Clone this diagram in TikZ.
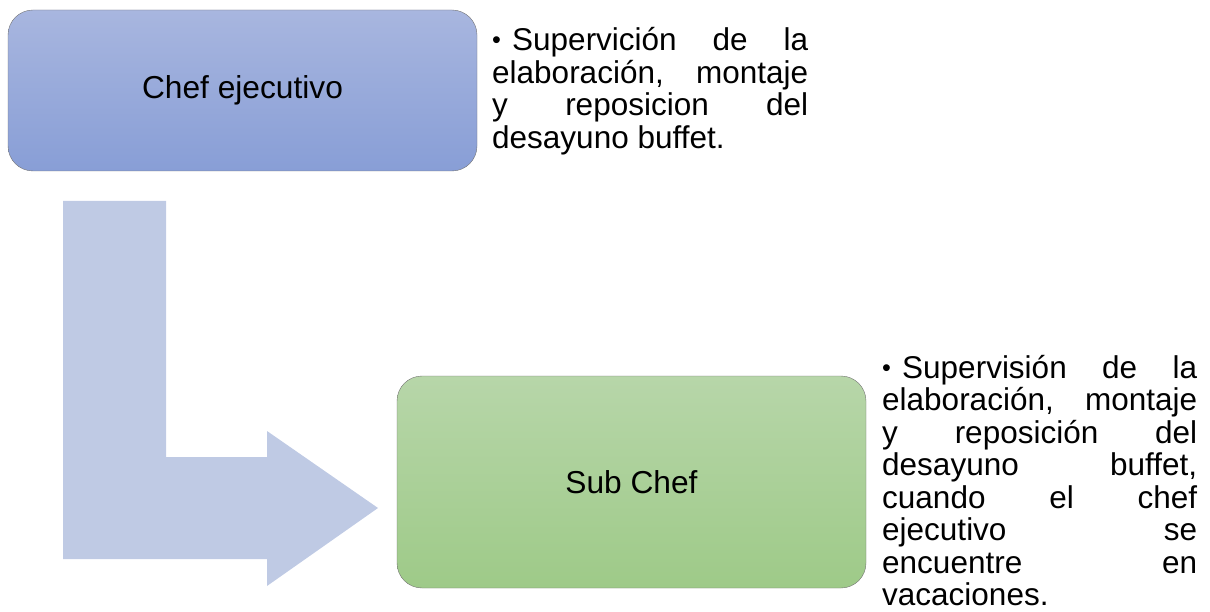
\documentclass[tikz,border=0pt]{standalone}
\usepackage{fontspec}
\setmainfont{Liberation Sans}
\usepackage{tikz}
\usetikzlibrary{shapes,arrows,positioning}

\definecolor{jefeTop}{RGB}{168,182,223}
\definecolor{jefeBot}{RGB}{136,158,214}
\definecolor{subTop}{RGB}{183,214,169}
\definecolor{subBot}{RGB}{158,202,136}
\definecolor{flecha}{RGB}{191,202,228}

\tikzstyle{puesto} = [draw=black!55, rectangle, rounded corners=25pt,
    minimum width=469pt, inner sep=0pt, font=\fontsize{31.7}{34}\selectfont]
\tikzstyle{tareas} = [anchor=base west, inner sep=0pt, align=justify,
    font=\fontsize{31.5}{32.5}\selectfont]

\newcommand{\tarea}{\noindent\hangindent=20pt\hangafter=1\makebox[20pt][l]{\raisebox{2pt}{\scalebox{0.8}{\textbullet}}}}

\begin{document}
\begin{tikzpicture}[x=1pt,y=-1pt]
\useasboundingbox (0,0) rectangle (1210,612);

% flecha en L
\fill[flecha] (63,201) -- (166,201) -- (166,457) -- (267,457) -- (267,431)
    -- (378,508) -- (267,586) -- (267,559) -- (63,559) -- cycle;

% puestos
\node[puesto, minimum height=161pt, top color=jefeTop, bottom color=jefeBot]
    (jefe) at (242.5,90.5) {Chef ejecutivo};
\node[puesto, minimum height=212pt, top color=subTop, bottom color=subBot]
    (subjefe) at (631.5,482) {Sub Chef};

% tareas
\node[tareas, text width=316pt] (tareasJefe) at (492,51) {\tarea
    Supervición de la\linebreak elaboración, montaje\linebreak
    y reposicion del\linebreak desayuno buffet.};
\node[tareas, text width=315pt] (tareasSub) at (882,378) {\tarea
    Supervisión de la\linebreak elaboración, montaje\linebreak
    y reposición del\linebreak desayuno buffet,\linebreak
    cuando el chef\linebreak ejecutivo se\linebreak
    encuentre en\linebreak vacaciones.};
\end{tikzpicture}
\end{document}
